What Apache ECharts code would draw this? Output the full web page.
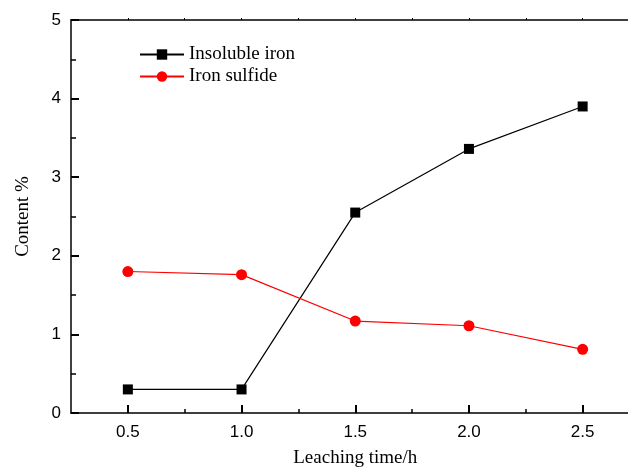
<!DOCTYPE html>
<html>
<head>
<meta charset="utf-8">
<script src="https://cdn.jsdelivr.net/npm/echarts@6/dist/echarts.min.js"></script>
<style>
  html, body { margin: 0; padding: 0; background: #fff; }
  #chart { width: 628px; height: 469px; }
</style>
</head>
<body>
<div id="chart"></div>
<script>
// Leaching time (h) and measured contents (%)
const leachingTime = [0.5, 1.0, 1.5, 2.0, 2.5];
const insolubleIron = [0.30, 0.30, 2.55, 3.36, 3.90];
const ironSulfide = [1.80, 1.76, 1.17, 1.11, 0.81];

const xMajorTicks = [0.5, 1.0, 1.5, 2.0, 2.5];
const xMinorTicks = [0.75, 1.25, 1.75, 2.25];
const xAllTicks = [0.5, 0.75, 1.0, 1.25, 1.5, 1.75, 2.0, 2.25, 2.5];

const serif = '"Liberation Serif", "Times New Roman", serif';
const sans = '"Liberation Sans", Arial, sans-serif';

const chart = echarts.init(document.getElementById('chart'), null, { renderer: 'canvas' });

const axisLine = { show: true, onZero: false, lineStyle: { color: '#000', width: 1.5 } };

chart.setOption({
  animation: false,
  backgroundColor: '#fff',
  grid: { left: 71, top: 20, width: 568.5, height: 393, containLabel: false, outerBoundsMode: 'none' },
  legend: {
    orient: 'vertical',
    left: 134,
    top: 40,
    itemWidth: 44,
    itemHeight: 13,
    itemGap: 3,
    textStyle: { fontFamily: serif, fontSize: 19, color: '#000' },
    data: ['Insoluble iron', 'Iron sulfide']
  },
  xAxis: [
    {
      type: 'value', position: 'bottom', min: 0.25, max: 2.75,
      name: 'Leaching time/h', nameLocation: 'middle', nameGap: 36,
      nameTextStyle: { fontFamily: serif, fontSize: 19, color: '#000' },
      axisLine: axisLine,
      axisTick: { show: true, inside: true, length: 8, customValues: xMajorTicks, lineStyle: { color: '#000', width: 2 } },
      axisLabel: {
        show: true, customValues: xMajorTicks, margin: 11,
        fontFamily: sans, fontSize: 17, color: '#000',
        formatter: v => v.toFixed(1)
      },
      splitLine: { show: false }
    },
    {
      // minor ticks between the labelled values
      type: 'value', position: 'bottom', min: 0.25, max: 2.75,
      axisLine: { show: false },
      axisTick: { show: true, inside: true, length: 4, customValues: xMinorTicks, lineStyle: { color: '#000', width: 1.5 } },
      axisLabel: { show: false },
      splitLine: { show: false }
    },
    {
      type: 'value', position: 'top', min: 0.25, max: 2.75,
      axisLine: axisLine,
      axisTick: { show: true, inside: false, length: 2, customValues: xAllTicks, lineStyle: { color: '#000', width: 1 } },
      axisLabel: { show: false },
      splitLine: { show: false }
    }
  ],
  yAxis: {
    type: 'value', min: 0, max: 5, interval: 1, position: 'left',
    name: 'Content %', nameLocation: 'middle', nameGap: 38,
    nameTextStyle: { fontFamily: serif, fontSize: 19, color: '#000' },
    axisLine: axisLine,
    axisTick: { show: true, inside: true, length: 8, lineStyle: { color: '#000', width: 2 } },
    minorTick: { show: true, splitNumber: 2, length: 5, lineStyle: { color: '#000', width: 1.5 } },
    axisLabel: { margin: 10, fontFamily: sans, fontSize: 17, color: '#000' },
    splitLine: { show: false }
  },
  series: [
    {
      name: 'Insoluble iron', type: 'line', xAxisIndex: 0, yAxisIndex: 0,
      data: leachingTime.map((t, i) => [t, insolubleIron[i]]),
      symbol: 'rect', symbolSize: 10,
      lineStyle: { color: '#000', width: 1.2 },
      itemStyle: { color: '#000' }
    },
    {
      name: 'Iron sulfide', type: 'line', xAxisIndex: 0, yAxisIndex: 0,
      data: leachingTime.map((t, i) => [t, ironSulfide[i]]),
      symbol: 'circle', symbolSize: 11,
      lineStyle: { color: '#ff0000', width: 1.2 },
      itemStyle: { color: '#ff0000' }
    }
  ]
});
</script>
</body>
</html>
